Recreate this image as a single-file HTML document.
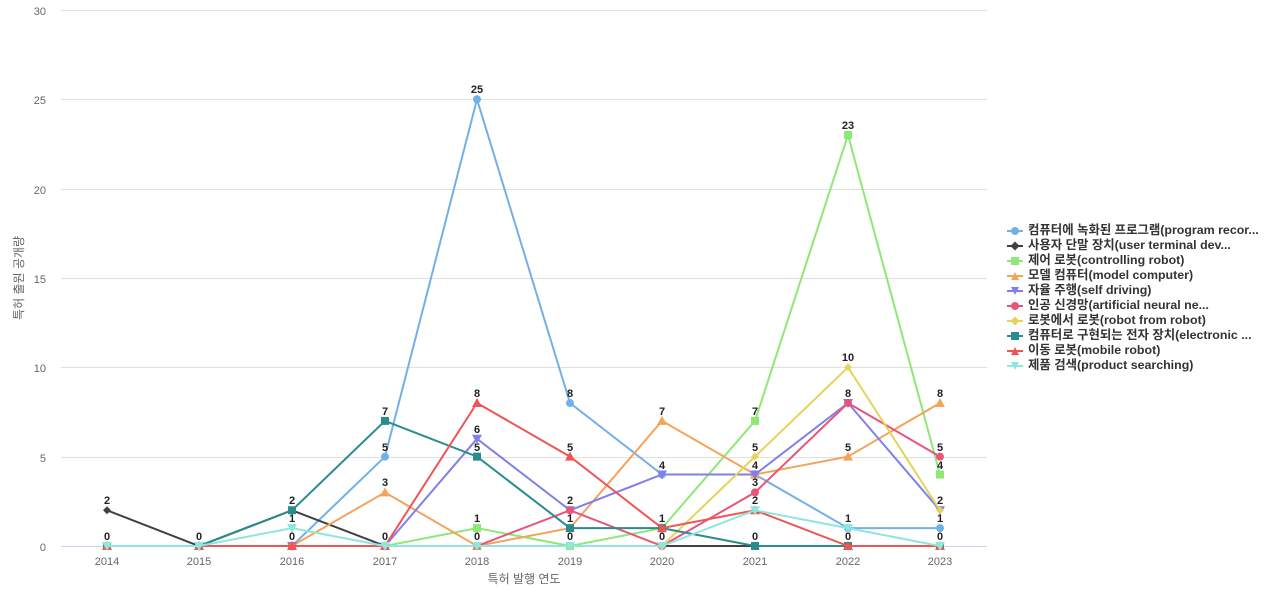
<!DOCTYPE html>
<html><head><meta charset="utf-8"><style>
body{margin:0;background:#fff;width:1280px;height:600px;overflow:hidden;font-family:"Liberation Sans","Noto Sans CJK KR",sans-serif}
.lg{position:absolute;left:1007px;top:223px;font-size:12.4px;font-weight:bold;color:#333;line-height:15px}
.lg div{position:relative;padding-left:21px;white-space:nowrap}
.lg div i{position:absolute;left:0;top:7px;width:16px;height:2px}
.lg div b{position:absolute;left:4px;top:4px;width:8px;height:8px}
</style></head><body>
<svg id="s" width="1280" height="600" style="position:absolute;left:0;top:0" font-family="Liberation Sans, Noto Sans CJK KR, sans-serif">
<g stroke="#e0e0e0" stroke-width="1">
<line x1="61" x2="987" y1="10.5" y2="10.5"/><line x1="61" x2="987" y1="99.5" y2="99.5"/><line x1="61" x2="987" y1="189.5" y2="189.5"/><line x1="61" x2="987" y1="278.5" y2="278.5"/><line x1="61" x2="987" y1="367.5" y2="367.5"/><line x1="61" x2="987" y1="457.5" y2="457.5"/>
</g>
<line x1="61" x2="987" y1="546.5" y2="546.5" stroke="#c8d4e8"/>
<g font-size="11" fill="#666" text-anchor="end">
<text x="46" y="15">30</text><text x="46" y="104">25</text><text x="46" y="194">20</text><text x="46" y="283">15</text><text x="46" y="372">10</text><text x="46" y="462">5</text><text x="46" y="551">0</text>
</g>
<g font-size="11" fill="#666" text-anchor="middle">
<text x="107" y="565">2014</text><text x="199" y="565">2015</text><text x="292" y="565">2016</text><text x="385" y="565">2017</text><text x="477" y="565">2018</text><text x="570" y="565">2019</text><text x="662" y="565">2020</text><text x="755" y="565">2021</text><text x="848" y="565">2022</text><text x="940" y="565">2023</text>
</g>
<text x="524" y="583" font-size="12" fill="#666" text-anchor="middle">특허 발행 연도</text>
<text transform="translate(23,278) rotate(-90)" font-size="12" fill="#666" text-anchor="middle">특허 출원 공개량</text>
<g id="series"></g>
<g font-size="11" font-weight="bold" fill="#222" text-anchor="middle">
<text x="107" y="504">2</text><text x="107" y="540">0</text>
<text x="199" y="540">0</text>
<text x="292" y="504">2</text><text x="292" y="522">1</text><text x="292" y="540">0</text>
<text x="385" y="415">7</text><text x="385" y="451">5</text><text x="385" y="486">3</text><text x="385" y="540">0</text>
<text x="477" y="93">25</text><text x="477" y="397">8</text><text x="477" y="433">6</text><text x="477" y="451">5</text><text x="477" y="522">1</text><text x="477" y="540">0</text>
<text x="570" y="397">8</text><text x="570" y="451">5</text><text x="570" y="504">2</text><text x="570" y="522">1</text><text x="570" y="540">0</text>
<text x="662" y="415">7</text><text x="662" y="469">4</text><text x="662" y="522">1</text><text x="662" y="540">0</text>
<text x="755" y="415">7</text><text x="755" y="451">5</text><text x="755" y="469">4</text><text x="755" y="486">3</text><text x="755" y="504">2</text><text x="755" y="540">0</text>
<text x="848" y="129">23</text><text x="848" y="361">10</text><text x="848" y="397">8</text><text x="848" y="451">5</text><text x="848" y="522">1</text><text x="848" y="540">0</text>
<text x="940" y="397">8</text><text x="940" y="451">5</text><text x="940" y="469">4</text><text x="940" y="504">2</text><text x="940" y="522">1</text><text x="940" y="540">0</text>
</g>
</svg>
<div class="lg">
<div><i style="background:#73b0e8"></i><b style="background:#73b0e8;border-radius:50%"></b>컴퓨터에 녹화된 프로그램(program recor...</div>
<div><i style="background:#404040"></i><b style="background:#404040;transform:rotate(45deg) scale(.8)"></b>사용자 단말 장치(user terminal dev...</div>
<div><i style="background:#8ee878"></i><b style="background:#8ee878"></b>제어 로봇(controlling robot)</div>
<div><i style="background:#f5a35a"></i><b style="background:#f5a35a;clip-path:polygon(50% 0,100% 100%,0 100%)"></b>모델 컴퓨터(model computer)</div>
<div><i style="background:#8080ea"></i><b style="background:#8080ea;clip-path:polygon(0 0,100% 0,50% 100%)"></b>자율 주행(self driving)</div>
<div><i style="background:#e8557a"></i><b style="background:#e8557a;border-radius:50%"></b>인공 신경망(artificial neural ne...</div>
<div><i style="background:#e5d45a"></i><b style="background:#e5d45a;transform:rotate(45deg) scale(.8)"></b>로봇에서 로봇(robot from robot)</div>
<div><i style="background:#2a8c8c"></i><b style="background:#2a8c8c"></b>컴퓨터로 구현되는 전자 장치(electronic ...</div>
<div><i style="background:#ef5555"></i><b style="background:#ef5555;clip-path:polygon(50% 0,100% 100%,0 100%)"></b>이동 로봇(mobile robot)</div>
<div><i style="background:#8ee6dc"></i><b style="background:#8ee6dc;clip-path:polygon(0 0,100% 0,50% 100%)"></b>제품 검색(product searching)</div>
</div>
<script>
var X=[107,199,292,385,477,570,662,755,848,940];
function Y(v){return 546-v*17.87;}
var S=[
["#73b0e8",[0,0,0,5,25,8,4,4,1,1],"circ"],
["#404040",[2,0,2,0,0,0,0,0,0,0],"dia"],
["#8ee878",[0,0,0,0,1,0,1,7,23,4],"sq"],
["#f5a35a",[0,0,0,3,0,1,7,4,5,8],"tri"],
["#8080ea",[0,0,0,0,6,2,4,4,8,2],"vtri"],
["#e8557a",[0,0,0,0,0,2,0,3,8,5],"circ"],
["#e5d45a",[0,0,0,0,0,0,0,5,10,2],"dia"],
["#2a8c8c",[0,0,2,7,5,1,1,0,0,0],"sq"],
["#ef5555",[0,0,0,0,8,5,1,2,0,0],"tri"],
["#8ee6dc",[0,0,1,0,0,0,0,2,1,0],"vtri"]
];
var h="";
S.forEach(function(s){
 var c=s[0],d=s[1],p=d.map(function(v,i){return X[i]+","+Y(v).toFixed(1)}).join(" ");
 h+='<polyline points="'+p+'" fill="none" stroke="'+c+'" stroke-width="2"/>';
 d.forEach(function(v,i){var x=X[i],y=Y(v);
  if(s[2]=="circ")h+='<circle cx="'+x+'" cy="'+y+'" r="4" fill="'+c+'"/>';
  else if(s[2]=="sq")h+='<rect x="'+(x-4)+'" y="'+(y-4)+'" width="8" height="8" fill="'+c+'"/>';
  else if(s[2]=="dia")h+='<polygon points="'+x+','+(y-4)+' '+(x+4)+','+y+' '+x+','+(y+4)+' '+(x-4)+','+y+'" fill="'+c+'"/>';
  else if(s[2]=="tri")h+='<polygon points="'+x+','+(y-5)+' '+(x+5)+','+(y+4)+' '+(x-5)+','+(y+4)+'" fill="'+c+'"/>';
  else h+='<polygon points="'+x+','+(y+5)+' '+(x+5)+','+(y-4)+' '+(x-5)+','+(y-4)+'" fill="'+c+'"/>';
 });
});
document.getElementById("series").innerHTML=h;
</script>
</body></html>
